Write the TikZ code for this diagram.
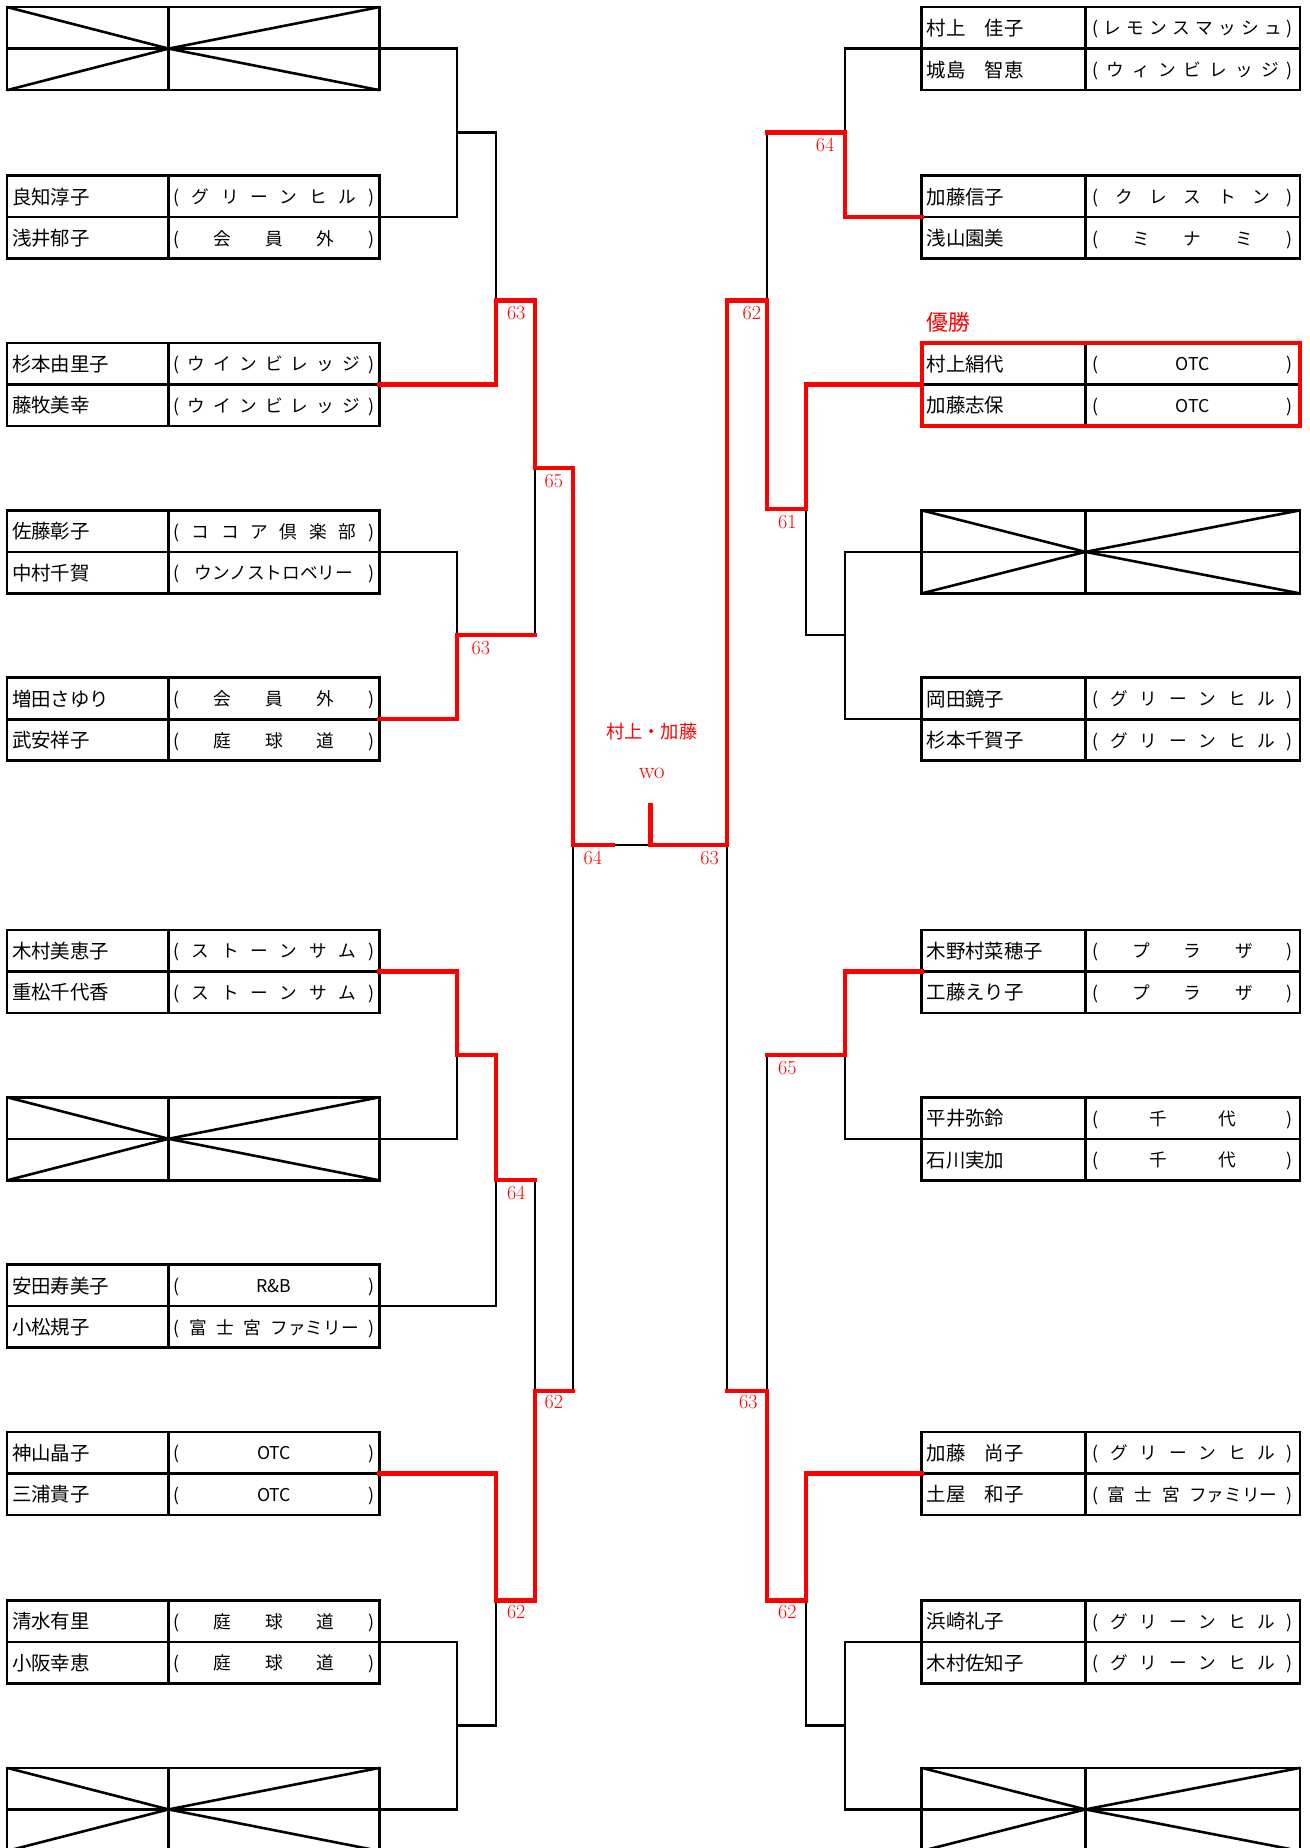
\documentclass[tikz,border=0pt]{standalone}
\usepackage{fontspec}
\newfontfamily\jp{Noto Sans CJK JP}
\tikzset{
  boxline/.style={line width=2.2pt, black},
  blk/.style={line width=2pt, black},
  rd/.style={line width=3.6pt, red, line cap=rect, line join=miter},
  redbox/.style={line width=3.4pt, red},
  namet/.style={anchor=west, inner sep=0pt, font=\jp\fontsize{16.5}{17}\selectfont, text height=15pt, text depth=2pt},
  clubt/.style={anchor=center, inner sep=0pt, font=\jp\fontsize{15}{17}\selectfont, text height=14pt, text depth=2pt},
  score/.style={inner sep=0pt, text=red, font=\fontsize{17}{17}\selectfont},
  redjp/.style={inner sep=0pt, text=red, font=\jp\fontsize{15.5}{16}\selectfont}
}
\def\spreadloop#1{\ifx\relax#1\else\hfill#1\expandafter\spreadloop\fi}
\newcommand\spread[1]{\spreadloop#1\relax}
\newcommand\clubbox[1]{\makebox[170pt]{(#1\hfill)}}
\newcommand\setside[4]{\def\xa{#1}\def\xb{#2}\def\xc{#3}\def\xcon{#4}}
\newcommand\pairbox[6]{%
  \draw[boxline] (\xa,#2) rectangle (\xc,#2+70.5);
  \draw[boxline] (\xa,#2+35.25) -- (\xc,#2+35.25);
  \draw[boxline] (\xb,#2) -- (\xb,#2+70.5);
  \node[namet] (#1a) at (\xa+4,#2+17.6) {#3};
  \node[clubt] (#1ac) at ({(\xb+\xc)/2},#2+17.6) {\clubbox{#4}};
  \node[namet] (#1b) at (\xa+4,#2+52.9) {#5};
  \node[clubt] (#1bc) at ({(\xb+\xc)/2},#2+52.9) {\clubbox{#6}};
  \coordinate (#1m) at (\xcon,#2+35.25);
}
\newcommand\byebox[2]{%
  \draw[boxline] (\xa,#2) rectangle (\xc,#2+70.5);
  \draw[boxline] (\xa,#2+35.25) -- (\xc,#2+35.25);
  \draw[boxline] (\xb,#2) -- (\xb,#2+70.5);
  \draw[boxline] (\xa,#2) -- (\xb,#2+35.25) -- (\xa,#2+70.5);
  \draw[boxline] (\xc,#2) -- (\xb,#2+35.25) -- (\xc,#2+70.5);
  \coordinate (#1m) at (\xcon,#2+35.25);
}
\begin{document}
\begin{tikzpicture}[x=1pt,y=-1pt]
\fill[white] (0,0) rectangle (1111.5,1568);
\useasboundingbox (0,0) rectangle (1111.5,1568);

% ---------- left side ----------
\setside{6}{143}{322}{322}
\byebox{L1}{6}
\pairbox{L2}{149}{良知淳子}{\spread{グリーンヒル}}{浅井郁子}{\spread{会員外}}
\pairbox{L3}{291}{杉本由里子}{\spread{ウインビレッジ}}{藤牧美幸}{\spread{ウインビレッジ}}
\pairbox{L4}{433}{佐藤彰子}{\spread{ココア倶楽部}}{中村千賀}{\hfill ウンノストロベリー}
\pairbox{L5}{575}{増田さゆり}{\spread{会員外}}{武安祥子}{\spread{庭球道}}
\pairbox{L6}{789}{木村美恵子}{\spread{ストーンサム}}{重松千代香}{\spread{ストーンサム}}
\byebox{L7}{931}
\pairbox{L8}{1073}{安田寿美子}{\hfill R\&B}{小松規子}{\spread{富士宮}\hfill ファミリー}
\pairbox{L9}{1215}{神山晶子}{\hfill OTC}{三浦貴子}{\hfill OTC}
\pairbox{L10}{1358}{清水有里}{\spread{庭球道}}{小阪幸恵}{\spread{庭球道}}
\byebox{L11}{1500}

% ---------- right side ----------
\setside{782}{921}{1103}{782}
\pairbox{R1}{6}{村上　佳子}{\spread{レモンスマッシュ}}{城島　智恵}{\spread{ウィンビレッジ}}
\pairbox{R2}{149}{加藤信子}{\spread{クレストン}}{浅山園美}{\spread{ミナミ}}
\pairbox{R3}{291}{村上絹代}{\hfill OTC}{加藤志保}{\hfill OTC}
\byebox{R4}{433}
\pairbox{R5}{575}{岡田鏡子}{\spread{グリーンヒル}}{杉本千賀子}{\spread{グリーンヒル}}
\pairbox{R6}{789}{木野村菜穂子}{\spread{プラザ}}{工藤えり子}{\spread{プラザ}}
\pairbox{R7}{931}{平井弥鈴}{\spread{千代}}{石川実加}{\spread{千代}}
\pairbox{R9}{1215}{加藤　尚子}{\spread{グリーンヒル}}{土屋　和子}{\spread{富士宮}\hfill ファミリー}
\pairbox{R10}{1358}{浜崎礼子}{\spread{グリーンヒル}}{木村佐知子}{\spread{グリーンヒル}}
\byebox{R11}{1500}

% ---------- junction coordinates ----------
\coordinate (jL12) at (388,112.5);
\coordinate (jL3) at (421,255);
\coordinate (jL45) at (388,539);
\coordinate (jLq1) at (454,397);
\coordinate (fL) at (486,717);
\coordinate (fLr) at (520,717);
\coordinate (fC) at (552,717);
\coordinate (fTop) at (552,683);
\coordinate (fR) at (617,717);
\coordinate (jRt) at (651,255);
\coordinate (jR12) at (717,112.5);
\coordinate (jR3) at (684,432);
\coordinate (jR45) at (717,539);
\coordinate (jL67) at (388,895);
\coordinate (jL8) at (421,1001);
\coordinate (jLb) at (454,1180);
\coordinate (fLb) at (486,1180);
\coordinate (jL9) at (421,1358);
\coordinate (jL1011) at (388,1464);
\coordinate (fRb) at (617,1180);
\coordinate (jRb) at (651,1180);
\coordinate (jR67) at (717,895);
\coordinate (jR9) at (684,1358);
\coordinate (jR1011) at (717,1464);

% ---------- black lines ----------
\draw[blk] (L1m) -| (jL12) |- (L2m);
\draw[blk] (jL12) -| (jL3);
\draw[blk] (L4m) -| (jL45);
\draw[blk] (jL45 -| jLq1) -- (jLq1);
\draw[blk] (fL) -- (fR);
\draw[blk] (R1m) -| (jR12);
\draw[blk] (jR12 -| jRt) -- (jRt);
\draw[blk] (R4m) -| (jR45) |- (R5m);
\draw[blk] (jR45) -| (jR3);
\draw[blk] (L7m) -| (jL67);
\draw[blk] (L8m) -| (jL8);
\draw[blk] (jL8 -| jLb) -- (jLb);
\draw[blk] (fL) -- (fLb);
\draw[blk] (L10m) -| (jL1011) |- (L11m);
\draw[blk] (jL1011) -| (jL9);
\draw[blk] (fR) -- (fRb);
\draw[blk] (R7m) -| (jR67);
\draw[blk] (jR67 -| jRb) -- (jRb);
\draw[blk] (R10m) -| (jR1011) |- (R11m);
\draw[blk] (jR1011) -| (jR9);

% ---------- red lines ----------
\draw[rd] (L3m) -| (jL3) -| (jLq1) -| (fL) -- (fLr);
\draw[rd] (L5m) -| (jL45) -- (jL45 -| jLq1);
\draw[rd] (fTop) -- (fC) -- (fR) |- (jRt) |- (jR3) |- (R3m);
\draw[rd] (R2m) -| (jR12) -- (jR12 -| jRt);
\draw[rd] (L6m) -| (jL67) -| (jL8) -- (jL8 -| jLb);
\draw[rd] (fLb) -- (jLb) |- (jL9) |- (L9m);
\draw[rd] (R6m) -| (jR67) -- (jR67 -| jRb);
\draw[rd] (fRb) -- (jRb) |- (jR9) |- (R9m);

% champion box
\draw[redbox] (782,291) rectangle (1103,361.5);

% ---------- labels ----------
\node[score] (s1) at (438,266) {63};
\node[score] (s2) at (470,408) {65};
\node[score] (s3) at (408,550) {63};
\node[score] (s4) at (503,728) {64};
\node[score] (s5) at (602,728) {63};
\node[score] (s6) at (700,123) {64};
\node[score] (s7) at (638,266) {62};
\node[score] (s8) at (668,443) {61};
\node[score] (s9) at (668,906) {65};
\node[score] (s10) at (438,1012) {64};
\node[score] (s11) at (470,1190) {62};
\node[score] (s12) at (438,1368) {62};
\node[score] (s13) at (635,1190) {63};
\node[score] (s14) at (668,1368) {62};
\node[redjp] (fin) at (553,621) {村上・加藤};
\node[score, font=\fontsize{20}{20}\selectfont] (wo) at (553,656) {wo};
\node[redjp, font=\jp\fontsize{18.5}{19}\selectfont] (yusho) at (805,273) {優勝};
\end{tikzpicture}
\end{document}
